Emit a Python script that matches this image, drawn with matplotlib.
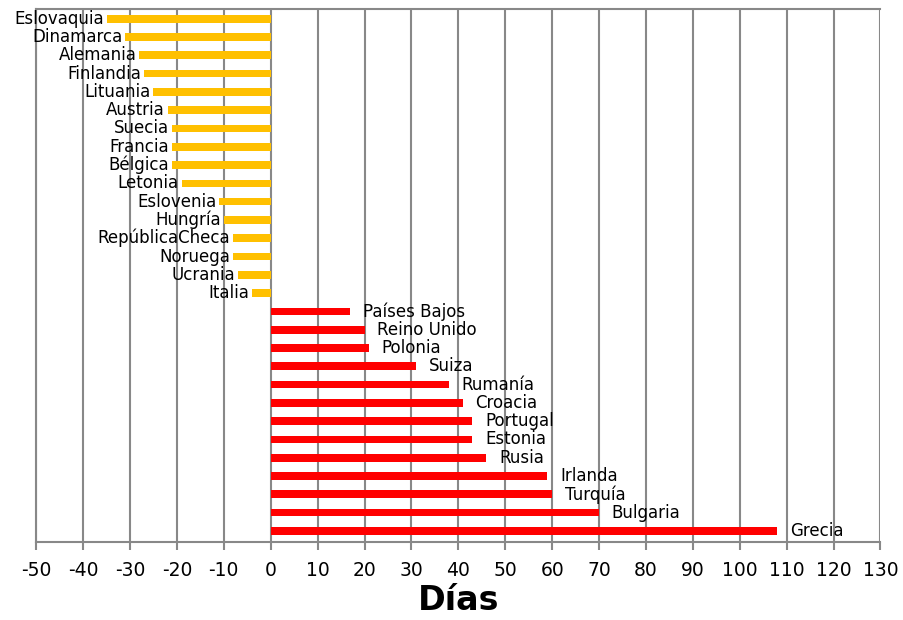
import matplotlib
matplotlib.use("Agg")
import matplotlib.pyplot as plt

# Countries above zero line (orange) and below (red), top to bottom
neg_countries = ["Eslovaquia", "Dinamarca", "Alemania", "Finlandia", "Lituania",
                 "Austria", "Suecia", "Francia", "Bélgica", "Letonia",
                 "Eslovenia", "Hungría", "RepúblicaCheca", "Noruega", "Ucrania", "Italia"]
neg_days = [-35, -31, -28, -27, -25, -22, -21, -21, -21, -19, -11, -10, -8, -8, -7, -4]

pos_countries = ["Países Bajos", "Reino Unido", "Polonia", "Suiza", "Rumanía",
                 "Croacia", "Portugal", "Estonia", "Rusia", "Irlanda",
                 "Turquía", "Bulgaria", "Grecia"]
pos_days = [17, 20, 21, 31, 38, 41, 43, 43, 46, 59, 60, 70, 108]

xticks = list(range(-50, 131, 10))

countries = neg_countries + pos_countries
days = neg_days + pos_days
colors = ["#FFC000"] * len(neg_days) + ["#FF0000"] * len(pos_days)
ypos = list(range(len(countries)))

fig = plt.figure(figsize=(9.04, 6.20), dpi=100)
ax = fig.add_axes([0.040, 0.126, 0.934, 0.860])

ax.barh(ypos, days, height=0.42, color=colors, zorder=3)

for y, c, d in zip(ypos, countries, days):
    if d < 0:
        ax.annotate(c, (d, y), xytext=(-2, 0), textcoords="offset points",
                    ha="right", va="center", fontsize=12, zorder=4)
    else:
        ax.annotate(c, (d, y), xytext=(9, 0), textcoords="offset points",
                    ha="left", va="center", fontsize=12, zorder=4)

ax.set_xlim(-50, 130)
ax.set_ylim(len(countries) - 0.4, -0.55)
ax.set_xticks(xticks)
ax.set_xticklabels([str(t) for t in xticks], fontsize=13.5)
ax.set_yticks([])
ax.grid(axis="x", color="#888888", linewidth=1.5, zorder=1)
ax.tick_params(axis="x", length=6, width=1.5, color="#888888", pad=8)
for s in ax.spines.values():
    s.set_color("#888888")
    s.set_linewidth(1.5)
ax.spines["right"].set_visible(False)
ax.set_xlabel("Días", fontsize=24, fontweight="bold", labelpad=3)

fig.savefig("out.png", dpi=100)
